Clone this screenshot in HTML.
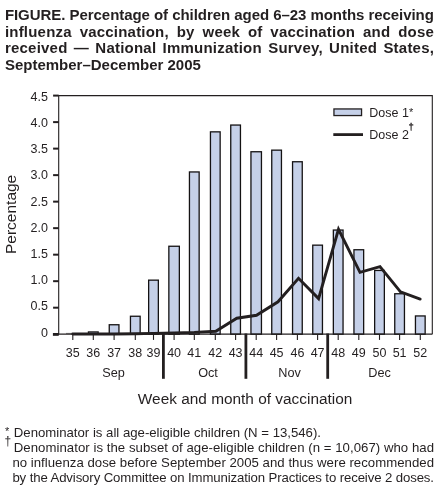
<!DOCTYPE html>
<html><head><meta charset="utf-8"><style>
html,body{margin:0;padding:0;background:#fff;}
body{width:448px;height:501px;position:relative;overflow:hidden;}
svg{position:absolute;left:0;top:0;will-change:transform;}
text{font-family:"Liberation Sans",sans-serif;}
</style></head><body>
<svg width="448" height="501" viewBox="0 0 448 501" font-family="Liberation Sans" font-size="12" fill="#231f20">
<g font-weight="bold" font-size="15"><text transform="translate(4.9,19.6) scale(1,1.0)" x="0" y="0" textLength="429" lengthAdjust="spacing" word-spacing="0">FIGURE. Percentage of children aged 6&#8211;23 months receiving</text><text transform="translate(4.9,37.1) scale(1,1.0)" x="0" y="0" textLength="429" lengthAdjust="spacing" word-spacing="3.5">influenza vaccination, by week of vaccination and dose</text><text transform="translate(4.9,53.0) scale(1,1.0)" x="0" y="0" textLength="429" lengthAdjust="spacing" word-spacing="1.9">received &#8212; National Immunization Survey, United States,</text><text transform="translate(4.9,69.5) scale(1,1.0)" x="0" y="0">September&#8211;December 2005</text></g>
<path d="M58.7,334.2 V95.6 H432.3 V334.2" fill="none" stroke="#231f20" stroke-width="1.1"/>
<g fill="#c5d0e8" stroke="#141213" stroke-width="1.3"><rect x="88.45" y="331.95" width="9.70" height="2.25"/><rect x="109.25" y="324.75" width="9.70" height="9.45"/><rect x="130.45" y="316.25" width="9.70" height="17.95"/><rect x="148.65" y="280.15" width="9.70" height="54.05"/><rect x="168.85" y="246.25" width="10.50" height="87.95"/><rect x="189.45" y="171.95" width="9.70" height="162.25"/><rect x="210.45" y="131.85" width="9.70" height="202.35"/><rect x="230.75" y="125.05" width="9.70" height="209.15"/><rect x="250.95" y="151.75" width="10.50" height="182.45"/><rect x="271.75" y="150.15" width="9.70" height="184.05"/><rect x="292.55" y="161.75" width="9.70" height="172.45"/><rect x="312.75" y="245.15" width="9.70" height="89.05"/><rect x="333.35" y="230.05" width="9.70" height="104.15"/><rect x="353.95" y="249.75" width="9.70" height="84.45"/><rect x="374.65" y="270.45" width="9.70" height="63.75"/><rect x="394.75" y="293.75" width="9.70" height="40.45"/><rect x="415.45" y="315.95" width="9.70" height="18.25"/></g>
<line x1="66" y1="333.4" x2="73" y2="333.4" stroke="#888" stroke-width="1"/>
<line x1="53.1" y1="334.2" x2="432.3" y2="334.2" stroke="#231f20" stroke-width="1.2"/><line x1="52.9" y1="334.4" x2="58.7" y2="334.4" stroke="#231f20" stroke-width="2.8"/>
<polyline points="72.80,334.00 93.30,334.00 114.10,334.00 135.30,333.80 153.50,333.40 174.10,333.00 194.30,332.40 215.80,331.20 236.80,318.20 256.50,315.30 278.00,301.80 298.50,278.30 318.60,298.60 338.50,229.30 360.00,272.30 380.00,266.60 400.50,291.90 420.20,299.10" fill="none" stroke="#231f20" stroke-width="2.9" stroke-linejoin="miter" stroke-linecap="round"/>
<g stroke="#231f20" stroke-width="2.0"><line x1="53.1" y1="334.20" x2="58.7" y2="334.20"/><line x1="53.1" y1="307.69" x2="58.7" y2="307.69"/><line x1="53.1" y1="281.18" x2="58.7" y2="281.18"/><line x1="53.1" y1="254.67" x2="58.7" y2="254.67"/><line x1="53.1" y1="228.16" x2="58.7" y2="228.16"/><line x1="53.1" y1="201.64" x2="58.7" y2="201.64"/><line x1="53.1" y1="175.13" x2="58.7" y2="175.13"/><line x1="53.1" y1="148.62" x2="58.7" y2="148.62"/><line x1="53.1" y1="122.11" x2="58.7" y2="122.11"/><line x1="53.1" y1="95.60" x2="58.7" y2="95.60"/></g>
<g font-size="12.5"><text x="47.9" y="336.56" text-anchor="end">0</text><text x="47.9" y="310.35" text-anchor="end">0.5</text><text x="47.9" y="284.14" text-anchor="end">1.0</text><text x="47.9" y="257.93" text-anchor="end">1.5</text><text x="47.9" y="231.72" text-anchor="end">2.0</text><text x="47.9" y="205.51" text-anchor="end">2.5</text><text x="47.9" y="179.30" text-anchor="end">3.0</text><text x="47.9" y="153.09" text-anchor="end">3.5</text><text x="47.9" y="126.88" text-anchor="end">4.0</text><text x="47.9" y="100.67" text-anchor="end">4.5</text></g>
<g stroke="#231f20" stroke-width="1.1"><line x1="72.80" y1="334.2" x2="72.80" y2="339.9"/><line x1="93.30" y1="334.2" x2="93.30" y2="339.9"/><line x1="114.10" y1="334.2" x2="114.10" y2="339.9"/><line x1="135.30" y1="334.2" x2="135.30" y2="339.9"/><line x1="153.50" y1="334.2" x2="153.50" y2="339.9"/><line x1="174.10" y1="334.2" x2="174.10" y2="339.9"/><line x1="194.30" y1="334.2" x2="194.30" y2="339.9"/><line x1="215.30" y1="334.2" x2="215.30" y2="339.9"/><line x1="235.60" y1="334.2" x2="235.60" y2="339.9"/><line x1="256.20" y1="334.2" x2="256.20" y2="339.9"/><line x1="276.60" y1="334.2" x2="276.60" y2="339.9"/><line x1="297.40" y1="334.2" x2="297.40" y2="339.9"/><line x1="317.60" y1="334.2" x2="317.60" y2="339.9"/><line x1="338.20" y1="334.2" x2="338.20" y2="339.9"/><line x1="358.80" y1="334.2" x2="358.80" y2="339.9"/><line x1="379.50" y1="334.2" x2="379.50" y2="339.9"/><line x1="399.60" y1="334.2" x2="399.60" y2="339.9"/><line x1="420.30" y1="334.2" x2="420.30" y2="339.9"/></g>
<g font-size="12.5" text-anchor="middle"><text x="72.80" y="357" text-anchor="middle">35</text><text x="93.30" y="357" text-anchor="middle">36</text><text x="114.10" y="357" text-anchor="middle">37</text><text x="135.30" y="357" text-anchor="middle">38</text><text x="153.50" y="357" text-anchor="middle">39</text><text x="174.10" y="357" text-anchor="middle">40</text><text x="194.30" y="357" text-anchor="middle">41</text><text x="215.30" y="357" text-anchor="middle">42</text><text x="235.60" y="357" text-anchor="middle">43</text><text x="256.20" y="357" text-anchor="middle">44</text><text x="276.60" y="357" text-anchor="middle">45</text><text x="297.40" y="357" text-anchor="middle">46</text><text x="317.60" y="357" text-anchor="middle">47</text><text x="338.20" y="357" text-anchor="middle">48</text><text x="358.80" y="357" text-anchor="middle">49</text><text x="379.50" y="357" text-anchor="middle">50</text><text x="399.60" y="357" text-anchor="middle">51</text><text x="420.30" y="357" text-anchor="middle">52</text></g>
<g stroke="#231f20" stroke-width="2.8"><line x1="163.4" y1="333.5" x2="163.4" y2="378.8"/><line x1="245.9" y1="333.5" x2="245.9" y2="378.8"/><line x1="327.7" y1="333.5" x2="327.7" y2="378.8"/></g>
<g font-size="12.7" text-anchor="middle"><text x="113.5" y="377">Sep</text><text x="208" y="377">Oct</text><text x="289.5" y="377">Nov</text><text x="379.5" y="377">Dec</text></g>
<text x="245.1" y="403.8" text-anchor="middle" font-size="15.4">Week and month of vaccination</text>
<text transform="translate(15.9,214.4) rotate(-90)" text-anchor="middle" font-size="15.5">Percentage</text>
<rect x="333.95" y="108.95" width="27.6" height="6.6" fill="#c5d0e8" stroke="#231f20" stroke-width="1.3"/>
<line x1="333.3" y1="134.6" x2="363" y2="134.6" stroke="#231f20" stroke-width="2.8"/>
<text x="369.3" y="116.8" font-size="12.5">Dose 1</text><text x="409.1" y="115.6" font-size="11">*</text>
<text x="369.3" y="138.8" font-size="12.5">Dose 2</text><text x="408.6" y="130.3" font-size="9.5" stroke="#231f20" stroke-width="0.3">&#8224;</text>
<g font-size="13.2"><text x="13.8" y="436.5" textLength="307.2" lengthAdjust="spacing">Denominator is all age-eligible children (N = 13,546).</text><text x="13.8" y="451.6" textLength="420.20" lengthAdjust="spacing">Denominator is the subset of age-eligible children (n = 10,067) who had</text><text x="12.4" y="466.7" textLength="421.60" lengthAdjust="spacing">no influenza dose before September 2005 and thus were recommended</text><text x="12.4" y="481.5" textLength="421.60" lengthAdjust="spacing">by the Advisory Committee on Immunization Practices to receive 2 doses.</text></g>
<text x="5" y="435.0" font-size="11">*</text>
<text x="4.6" y="445.0" font-size="12">&#8224;</text>
</svg>
</body></html>
